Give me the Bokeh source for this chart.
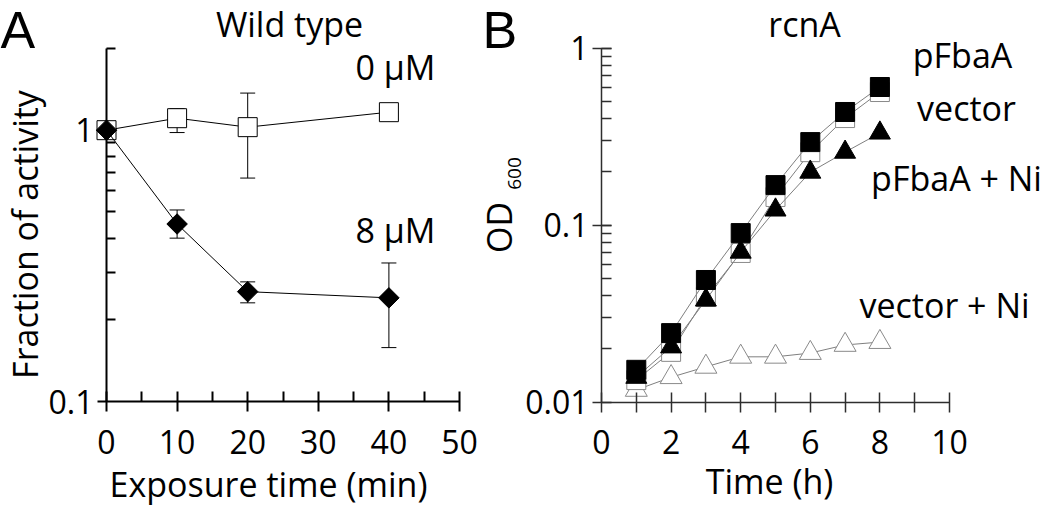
import numpy as np
from bokeh.plotting import figure
from bokeh.models import (ColumnDataSource, Whisker, TeeHead, Label, FixedTicker,
                          CustomJSTickFormatter, Range1d, LinearAxis, LogAxis,
                          LinearScale, LogScale)
from bokeh.embed import file_html
from bokeh.resources import INLINE

# ---------------- data: panel A (Wild type) ----------------
time_min = [0, 10, 20, 40]
act_0uM = [1.0, 1.107, 1.026, 1.165]
act_0uM_upper = [1.0, 1.20, 1.37, 1.165]
act_0uM_lower = [1.0, 0.98, 0.666, 1.165]
act_8uM = [1.0, 0.451, 0.254, 0.241]
act_8uM_upper = [1.0, 0.508, 0.276, 0.324]
act_8uM_lower = [1.0, 0.40, 0.231, 0.158]
a_xticks = [0, 10, 20, 30, 40, 50]
a_xminor = [5, 15, 25, 35, 45]
a_yticks = [0.1, 1]
a_yminor = [0.2, 0.3, 0.4, 0.5, 0.6, 0.7, 0.8, 0.9, 1, 2]

# ---------------- data: panel B (rcnA) ----------------
time_h = [1, 2, 3, 4, 5, 6, 7, 8]
od_pfbaa = [0.0152, 0.0245, 0.0489, 0.090, 0.168, 0.294, 0.435, 0.602]
od_vector = [0.0133, 0.0192, 0.0392, 0.0695, 0.144, 0.258, 0.402, 0.564]
od_pfbaa_ni = [0.0138, 0.0205, 0.0377, 0.0703, 0.1216, 0.199, 0.258, 0.331]
od_vector_ni = [0.0117, 0.0138, 0.0158, 0.0180, 0.0180, 0.0189, 0.0210, 0.0218]
b_xticks = [0, 2, 4, 6, 8, 10]
b_xminor = [1, 3, 5, 7, 9]
b_yticks = [0.01, 0.1, 1]
b_yminor = [0.02, 0.03, 0.04, 0.05, 0.06, 0.07, 0.08, 0.09, 0.1,
            0.2, 0.3, 0.4, 0.5, 0.6, 0.7, 0.8, 0.9, 1]

FONT = "Open Sans"
LBL = "34px"
TICK = "32px"
W, H = 1050, 507

# ---------------- frame geometry (pixels) ----------------
A_X0, A_X1, A_Y0, A_Y1 = 106, 459, 401, 48      # x: 0..50 ; y: 0.1..2
B_X0, B_X1, B_Y0, B_Y1 = 601, 949, 401.5, 47.5  # x: 0..10 ; y: 0.01..1


def lin_range(p0, v0, p1, v1):
    k = (v1 - v0) / (p1 - p0)
    return Range1d(v0 - p0 * k, v0 + (W - p0) * k)


def log_range(py0, v0, py1, v1):
    l0, l1 = np.log10(v0), np.log10(v1)
    k = (l1 - l0) / (py1 - py0)
    return Range1d(10 ** (l0 + (H - py0) * k), 10 ** (l0 - py0 * k))


p = figure(width=W, height=H, x_range=Range1d(0, W), y_range=Range1d(H, 0),
           x_axis_type=None, y_axis_type=None, min_border=0,
           output_backend="svg", toolbar_location=None,
           extra_x_ranges={"xa": lin_range(A_X0, 0, A_X1, 50),
                           "xb": lin_range(B_X0, 0, B_X1, 10)},
           extra_y_ranges={"ya": log_range(A_Y0, 0.1, A_Y1, 2),
                           "yb": log_range(B_Y0, 0.01, B_Y1, 1)},
           extra_x_scales={"xa": LinearScale(), "xb": LinearScale()},
           extra_y_scales={"ya": LogScale(), "yb": LogScale()})
p.outline_line_color = None
p.background_fill_color = "white"
p.border_fill_color = "white"


def style_axis(axis, color, width):
    axis.axis_line_color = color
    axis.axis_line_width = width
    axis.major_tick_line_color = color
    axis.major_tick_line_width = width
    axis.minor_tick_line_color = color
    axis.minor_tick_line_width = width
    axis.major_label_text_font = FONT
    axis.major_label_text_font_size = TICK
    axis.major_label_text_color = "black"


# ---------------- Panel A axes ----------------
xA = LinearAxis(x_range_name="xa", fixed_location=A_Y0, bounds=(0, 50),
                ticker=FixedTicker(ticks=a_xticks, minor_ticks=a_xminor),
                major_tick_in=10, major_tick_out=10, minor_tick_in=10, minor_tick_out=0,
                major_label_standoff=18)
style_axis(xA, "black", 2)
p.add_layout(xA, "below")
yA = LogAxis(y_range_name="ya", fixed_location=A_X0, bounds=(0.1, 2),
             ticker=FixedTicker(ticks=a_yticks, minor_ticks=a_yminor),
             formatter=CustomJSTickFormatter(code="return String(tick)"),
             major_tick_in=0, major_tick_out=9, minor_tick_in=9, minor_tick_out=0,
             major_label_standoff=4)
style_axis(yA, "black", 2)
p.add_layout(yA, "left")

# ---------------- Panel A data ----------------
srcA0 = ColumnDataSource(dict(x=time_min, y=act_0uM, up=act_0uM_upper, lo=act_0uM_lower))
srcA8 = ColumnDataSource(dict(x=time_min, y=act_8uM, up=act_8uM_upper, lo=act_8uM_lower))
for src in (srcA0, srcA8):
    p.add_layout(Whisker(base="x", upper="up", lower="lo", source=src,
                         x_range_name="xa", y_range_name="ya",
                         line_color="black", line_width=1,
                         upper_head=TeeHead(size=15, line_color="black", line_width=1),
                         lower_head=TeeHead(size=15, line_color="black", line_width=1)))
p.line("x", "y", source=srcA0, line_color="black", line_width=1,
       x_range_name="xa", y_range_name="ya")
p.scatter("x", "y", source=srcA0, marker="square", size=19,
          fill_color="white", line_color="black", line_width=1,
          x_range_name="xa", y_range_name="ya")
p.line("x", "y", source=srcA8, line_color="black", line_width=1,
       x_range_name="xa", y_range_name="ya")
p.scatter("x", "y", source=srcA8, marker="square", size=14.5, angle=np.pi / 4,
          fill_color="black", line_color="black", line_width=1,
          x_range_name="xa", y_range_name="ya")

# ---------------- Panel B axes ----------------
B_AX = "#2e2e2e"
xB = LinearAxis(x_range_name="xb", fixed_location=B_Y0, bounds=(0, 10),
                ticker=FixedTicker(ticks=b_xticks, minor_ticks=b_xminor),
                major_tick_in=10, major_tick_out=10, minor_tick_in=10, minor_tick_out=10,
                major_label_standoff=18)
style_axis(xB, B_AX, 1.5)
p.add_layout(xB, "below")
yB = LogAxis(y_range_name="yb", fixed_location=B_X0, bounds=(0.01, 1),
             ticker=FixedTicker(ticks=b_yticks, minor_ticks=b_yminor),
             formatter=CustomJSTickFormatter(code="return String(tick)"),
             major_tick_in=10, major_tick_out=9, minor_tick_in=10, minor_tick_out=0,
             major_label_standoff=4)
style_axis(yB, B_AX, 1.5)
p.add_layout(yB, "left")

# ---------------- Panel B data ----------------
GRAY_LINE = "#7f7f7f"
GRAY_EDGE = "#8a8a8a"
srcB = ColumnDataSource(dict(t=time_h, pf=od_pfbaa, ve=od_vector,
                             pfni=od_pfbaa_ni, veni=od_vector_ni))
kw = dict(source=srcB, x_range_name="xb", y_range_name="yb")
p.line("t", "veni", line_color=GRAY_LINE, line_width=1, **kw)
p.scatter("t", "veni", marker="triangle", size=22, fill_color="white",
          line_color=GRAY_EDGE, line_width=1, **kw)
p.line("t", "ve", line_color=GRAY_LINE, line_width=1, **kw)
p.scatter("t", "ve", marker="square", size=19, fill_color="white",
          line_color=GRAY_EDGE, line_width=1, **kw)
p.line("t", "pfni", line_color=GRAY_LINE, line_width=1, **kw)
p.scatter("t", "pfni", marker="triangle", size=21, fill_color="black",
          line_color="black", line_width=1, **kw)
p.line("t", "pf", line_color=GRAY_LINE, line_width=1, **kw)
p.scatter("t", "pf", marker="square", size=19, fill_color="black",
          line_color="black", line_width=1, **kw)


# ---------------- texts (pixel positions) ----------------
def add_label(x, y, text, size=LBL, align="center", angle=0.0, font=FONT):
    p.add_layout(Label(x=x, y=y, text=text, text_font=font, text_font_size=size,
                       text_color="black", text_align=align, text_baseline="middle",
                       angle=angle))


add_label(0, 29.5, "A", size="52px", align="left", font="Liberation Sans")
add_label(289, 23.5, "Wild type")
add_label(395, 66, "0 \u00b5M")
add_label(395, 229, "8 \u00b5M")
add_label(24, 234, "Fraction of activity", angle=np.pi / 2)
add_label(268, 483.5, "Exposure time (min)")

add_label(482, 29.5, "B", size="52px", align="left", font="Liberation Sans")
add_label(804, 23.5, "rcnA")
add_label(962, 54, "pFbaA")
add_label(966, 107, "vector")
add_label(956, 177, "pFbaA + Ni")
add_label(944, 304, "vector + Ni")
add_label(498, 227, "OD", angle=np.pi / 2)
add_label(514, 173, "600", size="19px", angle=np.pi / 2)
add_label(769, 480, "Time (h)")

open("out.html", "w").write(file_html(p, INLINE))
